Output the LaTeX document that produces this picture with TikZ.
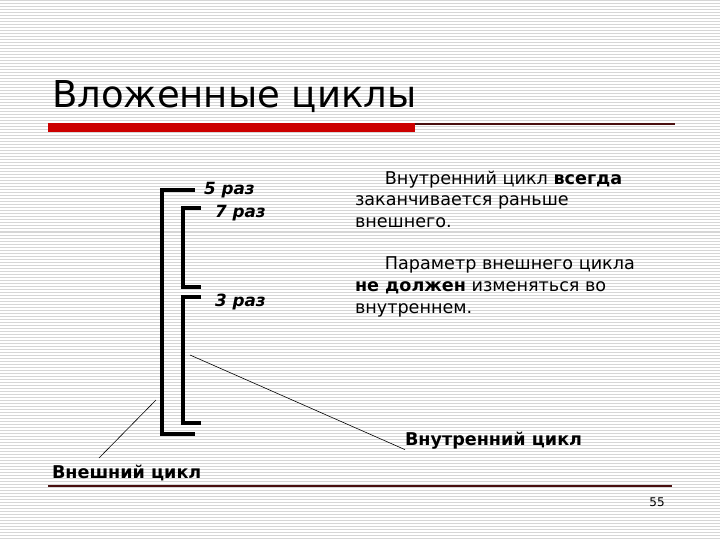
\documentclass[tikz,border=0pt]{standalone}
\usepackage{fontspec}
\setmainfont{DejaVu Sans}
\usetikzlibrary{positioning}
\definecolor{slidered}{HTML}{CC0000}
\definecolor{ruledark}{HTML}{4A1010}
\definecolor{stripe}{HTML}{D6D6D6}

\begin{document}
\begin{tikzpicture}[x=1pt,y=-1pt,every node/.style={inner sep=0pt,outer sep=0pt},
  bracket/.style={line width=4pt},
  count/.style={font=\fontsize{16.8}{18}\selectfont\bfseries\itshape,anchor=west},
  callout/.style={font=\fontsize{17.6}{19}\selectfont\bfseries},
  note/.style={font=\fontsize{17.6}{21.6}\selectfont,align=left,anchor=north west},
  pointer/.style={draw=black,line width=0.6pt}]
  \useasboundingbox (0,0) rectangle (720,540);
  \fill[white] (0,0) rectangle (720,540);
  \foreach \y in {1,4,...,540}
    \draw[stripe,line width=1pt] (0,\y) -- (720,\y);

  % title and rules
  \node[anchor=base west,font=\fontsize{37}{42}\selectfont] (title) at (52,108) {Вложенные циклы};
  \fill[slidered] (48,123) rectangle (415,132);
  \draw[ruledark,line width=1.2pt] (415,124) -- (675,124);
  \draw[ruledark,line width=1.2pt] (48,486) -- (672,486);
  \node[font=\fontsize{12}{14}\selectfont] (page) at (657,502) {55};

  % loop brackets
  \draw[bracket] (195,190) -- (162,190) -- (162,434) -- (195,434);
  \draw[bracket] (201,208) -- (183,208) -- (183,287) -- (201,287);
  \draw[bracket] (201,297) -- (183,297) -- (183,423) -- (201,423);
  \node[count] (five) at (204,190) {5 раз};
  \node[count] (seven) at (215,213) {7 раз};
  \node[count] (three) at (215,302) {3 раз};

  % notes
  \node[note] (rule1) at (355,171) {\hspace*{1.7em}Внутренний цикл \textbf{всегда}\\заканчивается раньше\\внешнего.};
  \node[note] (rule2) at (355,257) {\hspace*{1.7em}Параметр внешнего цикла\\\textbf{не должен} изменяться во\\внутреннем.};

  % callouts
  \node[callout,anchor=west] (inner) at (405,441) {Внутренний цикл};
  \node[callout,anchor=west] (outer) at (52,473) {Внешний цикл};
  \coordinate (innertip) at (190,355);
  \coordinate (outertip) at (156,400);
  \coordinate (outerfoot) at (99,458);
  \draw[pointer] (innertip) -- (inner.south west);
  \draw[pointer] (outertip) -- (outerfoot);
\end{tikzpicture}
\end{document}
